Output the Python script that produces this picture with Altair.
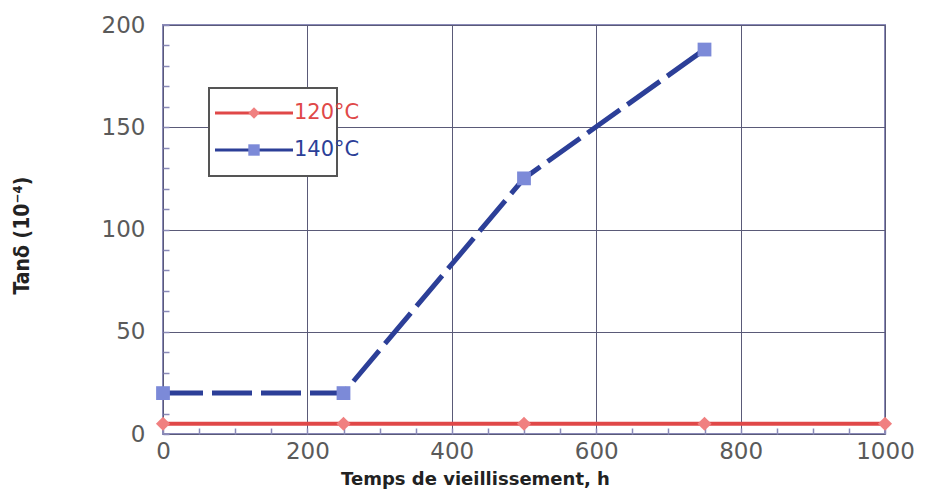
import altair as alt
import pandas as pd

# ---- data ----
hours_120 = [0, 250, 500, 750, 1000]
tand_120 = [5, 5, 5, 5, 5]
hours_140 = [0, 250, 500, 750]
tand_140 = [20, 20, 125, 188]
series_names = ["120°C", "140°C"]
series_colors = ["#e04848", "#2c3f98"]
marker_fill = ["#f08080", "#7c8ad8"]
x_ticks = [0, 200, 400, 600, 800, 1000]
y_ticks = [0, 50, 100, 150, 200]
x_minor = list(range(0, 1001, 50))
y_minor = list(range(0, 201, 10))

df120 = pd.DataFrame({"h": hours_120, "v": tand_120, "s": series_names[0]})
df140 = pd.DataFrame({"h": hours_140, "v": tand_140, "s": series_names[1]})

FONT = "DejaVu Sans"
W, H = 722, 409

xs = alt.Scale(domain=[0, 1000], nice=False, zero=False)
ys = alt.Scale(domain=[0, 200], nice=False, zero=False)

xaxis = alt.Axis(values=x_ticks, title="Temps de vieillissement, h", grid=True, format="d",
                 gridColor="#5a5a78", gridWidth=1, ticks=False, domain=False,
                 labelFont=FONT, labelFontSize=23, labelColor="#5a5a5a", labelPadding=6,
                 titleFont=FONT, titleFontSize=18, titleFontWeight="bold", titleColor="#222222",
                 titleX=312, titleY=50, titleAnchor="start", titleAlign="center",
                 titleBaseline="alphabetic", labelFlush=False)
yaxis = alt.Axis(values=y_ticks, title="Tanδ (10⁻⁴)", grid=True,
                 gridColor="#5a5a78", gridWidth=1, ticks=False, domain=False,
                 labelFont=FONT, labelFontSize=23, labelColor="#5a5a5a", labelPadding=18,
                 titleFont="DejaVu Sans Condensed", titleFontSize=21, titleFontWeight="bold",
                 titleColor="#222222", titleX=-141, titleY=210, titleAngle=-90,
                 titleAlign="center", titleBaseline="middle", labelFlush=False)

base120 = alt.Chart(df120).encode(x=alt.X("h:Q", scale=xs, axis=xaxis),
                                  y=alt.Y("v:Q", scale=ys, axis=yaxis))
base140 = alt.Chart(df140).encode(x=alt.X("h:Q", scale=xs, axis=xaxis),
                                  y=alt.Y("v:Q", scale=ys, axis=yaxis))

line140 = base140.mark_line(color=series_colors[1], strokeWidth=5, strokeDash=[40, 9])
pts140 = base140.mark_point(shape="square", filled=True, size=190,
                            color=marker_fill[1], opacity=1)
line120 = base120.mark_line(color=series_colors[0], strokeWidth=4)
pts120 = base120.mark_point(shape="diamond", filled=True, size=200,
                            color=marker_fill[0], opacity=1)

# ---- manual legend (pixel positions in the plot area) ----
one = pd.DataFrame({"a": [0]})
leg_box = alt.Chart(one).mark_rect(fill="white", stroke="#555555", strokeWidth=2).encode(
    x=alt.value(46), x2=alt.value(174), y=alt.value(63), y2=alt.value(151))
leg_df = pd.DataFrame({"s": series_names, "c": series_colors, "f": marker_fill,
                       "yy": [88, 125]})
leg_lines = alt.Chart(leg_df).mark_rule(strokeWidth=3).encode(
    x=alt.value(52), x2=alt.value(130), y=alt.Y("yy:Q", scale=None),
    color=alt.Color("c:N", scale=None))
leg_pts = alt.Chart(leg_df).mark_point(filled=True, size=130, opacity=1).encode(
    x=alt.value(91), y=alt.Y("yy:Q", scale=None),
    color=alt.Color("f:N", scale=None),
    shape=alt.Shape("s:N", scale=alt.Scale(domain=series_names, range=["diamond", "square"]),
                    legend=None))
leg_txt = alt.Chart(leg_df).mark_text(align="left", baseline="middle", font=FONT,
                                      fontSize=21).encode(
    x=alt.value(131), y=alt.Y("yy:Q", scale=None), text="s:N",
    color=alt.Color("c:N", scale=None))

main = alt.layer(line140, pts140, line120, pts120, leg_box, leg_lines, leg_pts, leg_txt)

# inner minor ticks: axes on the opposite side, shifted into the plot
minor = alt.Chart(df140).mark_point(opacity=0).encode(
    x=alt.X("h:Q", scale=xs, axis=alt.Axis(orient="top", offset=-H, values=x_minor,
                                           labels=False, domain=False, grid=False,
                                           tickSize=6, tickColor="#8a8ab8", tickWidth=1.5,
                                           title=None)),
    y=alt.Y("v:Q", scale=ys, axis=alt.Axis(orient="right", offset=-W, values=y_minor,
                                           labels=False, domain=False, grid=False,
                                           tickSize=6, tickColor="#8a8ab8", tickWidth=1.5,
                                           title=None)),
)

chart = alt.layer(main, minor).resolve_axis(x="independent", y="independent").properties(
    width=W, height=H,
    autosize=alt.AutoSizeParams(type="none"),
    padding={"left": 155, "top": 17, "right": 38, "bottom": 55},
    background="white",
).configure_view(stroke="#8a8ab8", strokeWidth=2)

chart.save("out.html", embed_options={"renderer": "svg", "actions": False})
